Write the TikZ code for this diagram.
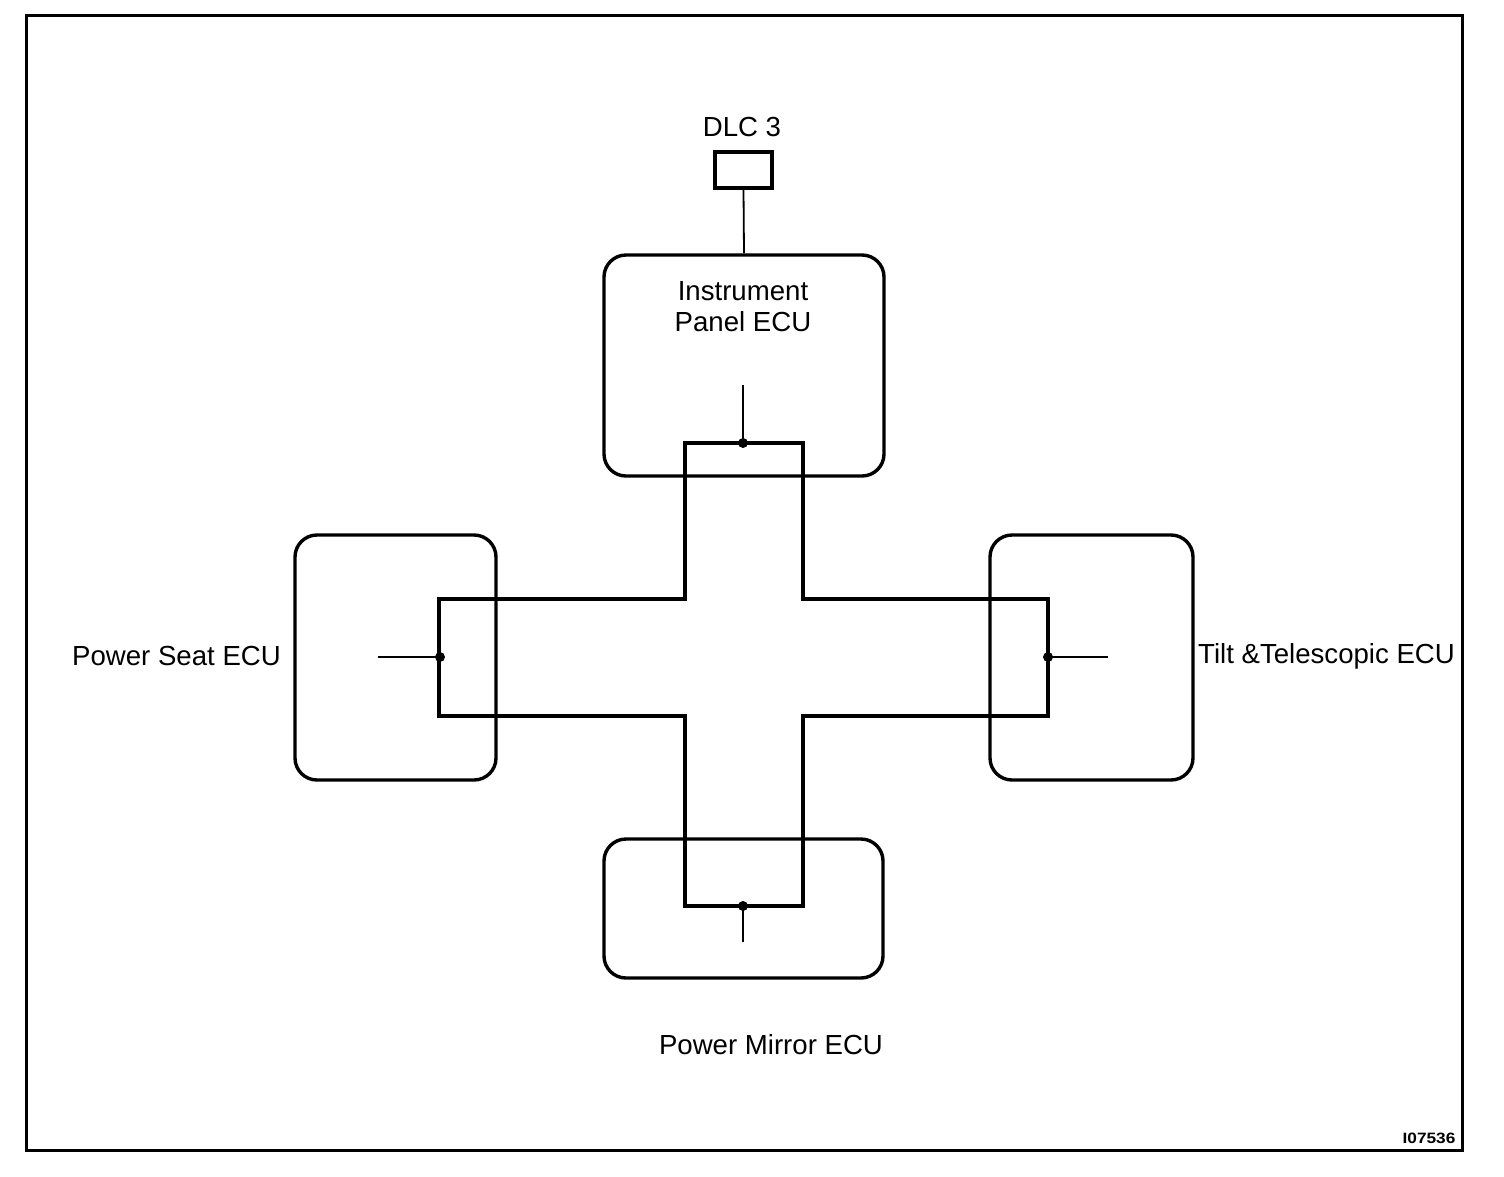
\documentclass[tikz,border=0pt]{standalone}
\usepackage{fontspec}
\setmainfont{Liberation Sans}
\begin{document}
\begin{tikzpicture}[x=1pt,y=-1pt,
  ecu/.style={draw, line width=3.4pt, rounded corners=22pt, inner sep=0pt},
  plain/.style={draw, line width=3.2pt, inner sep=0pt},
  bus/.style={line width=3.2pt, line join=miter},
  stub/.style={line width=1.8pt},
  dot/.style={circle, fill=black, inner sep=0pt, minimum size=10pt},
  lbl/.style={font=\fontsize{27.6}{31}\selectfont, inner sep=0pt, align=center}]
\useasboundingbox (0,0) rectangle (1504,1176);
\node[draw, line width=3pt, minimum width=1436pt, minimum height=1135pt, inner sep=0pt] (frame) at (744,582.5) {};
% boxes
\node[plain, minimum width=57pt, minimum height=36pt] (dlc) at (743.5,170) {};
\node[ecu, minimum width=280pt, minimum height=221pt] (ip) at (744,365.5) {};
\node[ecu, minimum width=201pt, minimum height=245pt] (ps) at (395.5,657.5) {};
\node[ecu, minimum width=203pt, minimum height=245pt] (tt) at (1091.5,657.5) {};
\node[ecu, minimum width=279pt, minimum height=139pt] (pm) at (743.5,908.5) {};
% labels
\node[lbl] (dlcl) at (742,127) {DLC 3};
\node[lbl] (ipl) at (743,307) {Instrument\\Panel ECU};
\node[lbl] (psl) at (176.5,656) {Power Seat ECU};
\node[lbl] (ttl) at (1326.5,656) {Tilt \&Telescopic ECU};
\node[lbl] (pml) at (771,1045) {Power Mirror ECU};
\node[inner sep=0pt, font=\fontsize{15}{17}\selectfont\bfseries] (code) at (1429,1138) {\scalebox{1.15}[1]{I07536}};
% DLC connection
\draw[stub] (dlc.south) -- (ip.north);
% bus cross
\draw[bus] (685,443) -- (803,443) -- (803,599) -- (1048,599) -- (1048,716) -- (803,716)
  -- (803,906) -- (685,906) -- (685,716) -- (439,716) -- (439,599) -- (685,599) -- cycle;
% junctions and stubs
\coordinate (jip) at (743,443);
\coordinate (jps) at (440,657);
\coordinate (jtt) at (1048,657);
\coordinate (jpm) at (743,906);
\coordinate (sip) at (743,385);
\coordinate (sps) at (378,657);
\coordinate (stt) at (1108,657);
\coordinate (spm) at (743,942);
\node[dot] (dip) at (jip) {};
\node[dot] (dps) at (jps) {};
\node[dot] (dtt) at (jtt) {};
\node[dot] (dpm) at (jpm) {};
\draw[stub] (dip.center) -- (sip);
\draw[stub] (dps.center) -- (sps);
\draw[stub] (dtt.center) -- (stt);
\draw[stub] (dpm.center) -- (spm);
\end{tikzpicture}
\end{document}
